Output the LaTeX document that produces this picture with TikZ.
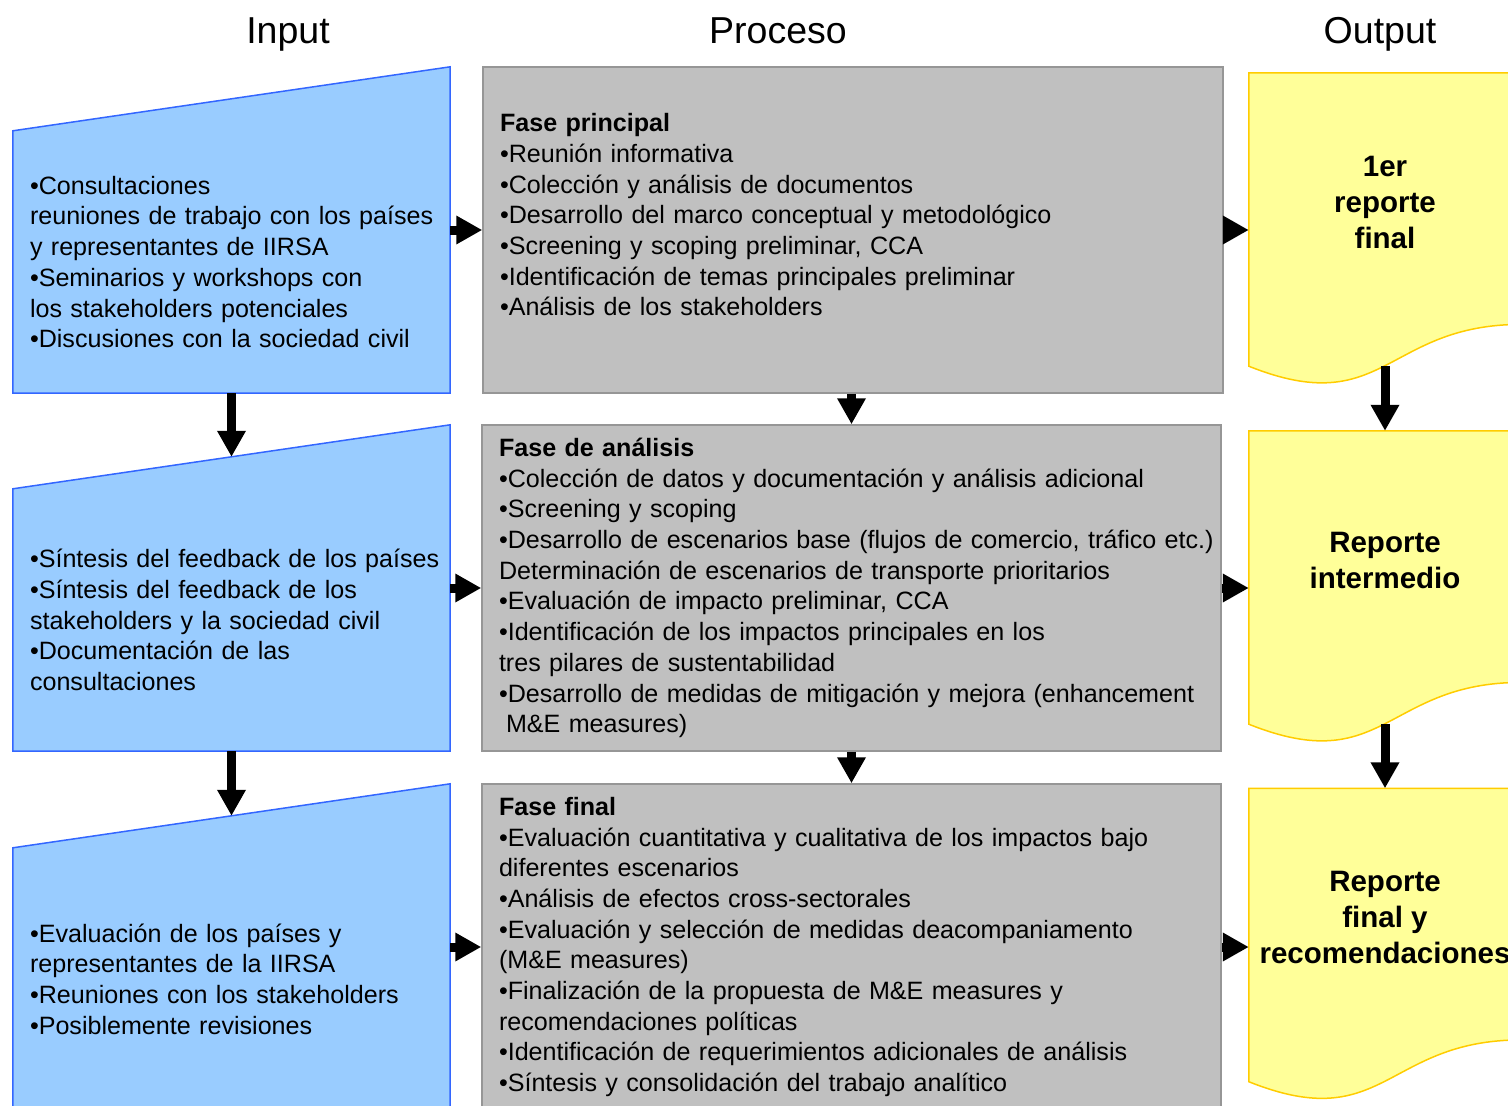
\documentclass[tikz,border=0pt]{standalone}
\usepackage{fontspec}
\setmainfont{Liberation Sans}
\usetikzlibrary{arrows.meta, backgrounds}
\definecolor{inblue}{HTML}{99CCFF}
\definecolor{inedge}{HTML}{3366FF}
\definecolor{procgray}{HTML}{C0C0C0}
\definecolor{procedge}{HTML}{969696}
\definecolor{outyellow}{HTML}{FFFF99}
\definecolor{outedge}{HTML}{FFCC00}

\begin{document}
\begin{tikzpicture}[x=1pt, y=-1pt,
  txt/.style={font=\fontsize{25.1pt}{30.7pt}\selectfont, align=left,
              inner xsep=1pt, inner ysep=0pt,
              execute at begin node={\leftskip=16pt}},
  inbox/.style={txt, minimum width=437pt, minimum height=262pt, text width=435pt},
  procbox/.style={txt, draw=procedge, line width=1.5pt, fill=procgray,
                  minimum height=326pt},
  outbox/.style={font=\bfseries\fontsize{29.5pt}{36pt}\selectfont, align=center,
                 minimum width=272pt, minimum height=293pt, text depth=35pt},
  inline/.style={draw=inedge, line width=1.5pt, fill=inblue},
  outline/.style={draw=outedge, line width=1.5pt, fill=outyellow},
  title/.style={font=\fontsize{37.5pt}{45pt}\selectfont, anchor=base},
  arr/.style={-{Triangle[length=26pt, width=27pt]}, line width=9pt}
]
  \useasboundingbox (0,0) rectangle (1508,1106);

  % column titles
  \node[title] (tin)   at (288, 43)  {Input};
  \node[title] (tproc) at (778, 43)  {Proceso};
  \node[title] (tout)  at (1380, 43) {Output};

  % input
  \node[inbox] (in1) at (231.5, 262) {•Consultaciones\\reuniones de trabajo con los países\\y representantes de IIRSA\\•Seminarios y workshops con\\los stakeholders potenciales\\•Discusiones con la sociedad civil};
  \node[inbox] (in2) at (231.5, 620) {•Síntesis del feedback de los países\\•Síntesis del feedback de los\\stakeholders y la sociedad civil\\•Documentación de las\\consultaciones};
  \node[inbox] (in3) at (231.5, 979) {•Evaluación de los países y\\representantes de la IIRSA\\•Reuniones con los stakeholders\\•Posiblemente revisiones};
  \coordinate (in2top) at ([yshift=32pt]in2.north);
  \coordinate (in3top) at ([yshift=32pt]in3.north);

  % proceso
  \node[procbox, minimum width=740pt, text width=738pt] (p1) at (853, 230)
    {\textbf{Fase principal}\\•Reunión informativa\\•Colección y análisis de documentos\\•Desarrollo del marco conceptual y metodológico\\•Screening y scoping preliminar, CCA\\•Identificación de temas principales preliminar\\•Análisis de los stakeholders\\\mbox{}};
  \node[procbox, minimum width=739pt, text width=737pt] (p2) at (851.5, 588)
    {\textbf{Fase de análisis}\\•Colección de datos y documentación y análisis adicional\\•Screening y scoping\\•Desarrollo de escenarios base (flujos de comercio, tráfico etc.)\\Determinación de escenarios de transporte prioritarios\\•Evaluación de impacto preliminar, CCA\\•Identificación de los impactos principales en los\\tres pilares de sustentabilidad\\•Desarrollo de medidas de mitigación y mejora (enhancement\\\hspace*{7pt}M\&E measures)};
  \node[procbox, minimum width=739pt, text width=737pt] (p3) at (851.5, 947)
    {\textbf{Fase final}\\•Evaluación cuantitativa y cualitativa de los impactos bajo\\diferentes escenarios\\•Análisis de efectos cross-sectorales\\•Evaluación y selección de medidas deacompaniamento\\(M\&E measures)\\•Finalización de la propuesta de M\&E measures y\\recomendaciones políticas\\•Identificación de requerimientos adicionales de análisis\\•Síntesis y consolidación del trabajo analítico};

  % output
  \node[outbox] (out1) at (1385, 219.5) {1er\\reporte\\final};
  \node[outbox] (out2) at (1385, 577.5) {Reporte\\intermedio};
  \node[outbox] (out3) at (1385, 935)   {Reporte\\final y\\recomendaciones};

  \begin{scope}[on background layer]
    \foreach \n in {in1, in2, in3}
      \draw[inline] (\n.south west) -- (\n.north west) -- ([yshift=64pt]\n.north east)
        -- (\n.south east) -- cycle;
    \foreach \n in {out1, out2, out3}
      \draw[outline] (\n.north west) -- (\n.north east) -- ++(0,251.6)
        .. controls +(-136,0) and +(136,54.4) .. (\n.south west) -- cycle;
  \end{scope}

  \draw[arr] (in1.east |- p1.west) -- (p1.west);
  \draw[arr] (in2.east |- p2.west) -- (p2.west);
  \draw[arr] (in3.east |- p3.west) -- (p3.west);
  \draw[arr] (p1.east) -- (p1.east -| out1.west);
  \draw[arr] (p2.east) -- (p2.east -| out2.west);
  \draw[arr] (p3.east) -- (p3.east -| out3.west);

  \draw[arr] (in1.south) -- (in2top);
  \draw[arr] (in2.south) -- (in3top);
  \draw[arr] (p1.south -| p2.north) -- (p2.north);
  \draw[arr] (p2.south) -- (p3.north);
  \draw[arr] (out1.south) -- (out2.north);
  \draw[arr] (out2.south) -- (out3.north);
\end{tikzpicture}
\end{document}
